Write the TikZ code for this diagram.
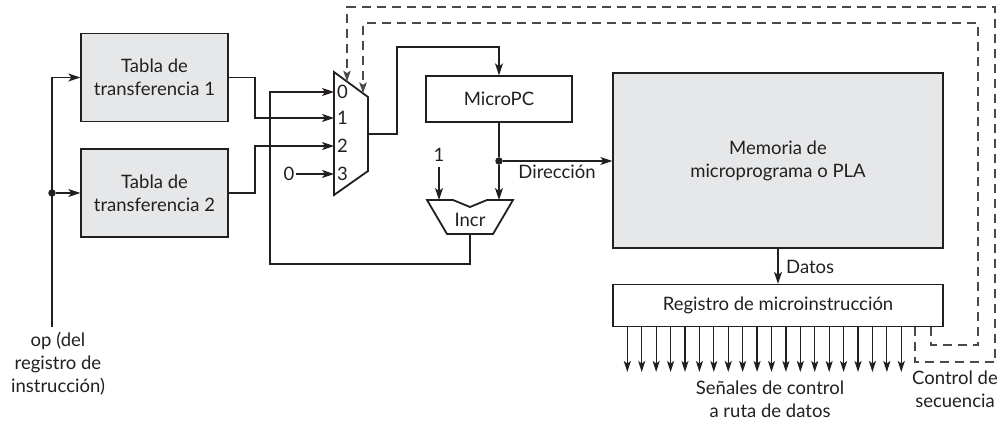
\documentclass[tikz,border=0pt]{standalone}
\usepackage{fontspec}
\setmainfont{Lato}
\usetikzlibrary{arrows.meta,calc}
\definecolor{boxgray}{HTML}{E6E7E8}
\definecolor{ink}{HTML}{231F20}
\definecolor{dashink}{HTML}{4A4A4A}
\begin{document}
\begin{tikzpicture}[x=1pt,y=-1pt,
  every node/.style={font=\fontsize{18.5}{23}\selectfont, text=ink},
  wire/.style={draw=ink, line width=1.25pt},
  arr/.style={wire, -{Stealth[length=12pt,width=8pt,inset=3pt]}},
  sig/.style={wire, -{Stealth[length=11pt,width=7pt,inset=2.5pt]}},
  dsh/.style={draw=dashink, line width=1.1pt, dash pattern=on 9pt off 6pt, -{Stealth[length=11pt,width=7.5pt,inset=2.5pt]}},
  graybox/.style={draw=ink, fill=boxgray, line width=1.3pt, inner sep=0pt, align=center},
  whitebox/.style={draw=ink, fill=white, line width=1.3pt, inner sep=0pt, align=center},
  lbl/.style={inner sep=1pt, align=center},
  dotc/.style={circle, fill=ink, inner sep=0pt, minimum size=7.5pt}
]
\useasboundingbox (0,0) rectangle (1006,421);

% boxes
\node[graybox, minimum width=147pt, minimum height=88pt] (t1) at (154.5,77.5) {Tabla de\\transferencia 1};
\node[graybox, minimum width=147pt, minimum height=88pt] (t2) at (154.5,193) {Tabla de\\transferencia 2};
\node[whitebox, minimum width=146pt, minimum height=46pt] (upc) at (499,99) {MicroPC};
\node[graybox, minimum width=330pt, minimum height=175pt] (mem) at (778,160.5) {Memoria de\\microprograma o PLA};
\node[whitebox, minimum width=330pt, minimum height=42pt] (reg) at (778,305.5) {Registro de microinstrucción};

% multiplexer
\coordinate (m1) at (334,72);
\coordinate (m2) at (368,97);
\coordinate (m3) at (368,171);
\coordinate (m4) at (334,195);
\draw[draw=ink, line width=1.8pt, line join=miter] (m1) -- (m2) -- (m3) -- (m4) -- cycle;
\coordinate (in0) at (334,92);
\coordinate (in1) at (334,118);
\coordinate (in2) at (334,146);
\coordinate (in3) at (334,174);
\coordinate (mout) at (368,134);
\node[lbl, anchor=west] (l0) at (336,92) {0};
\node[lbl, anchor=west] (l1) at (336,118) {1};
\node[lbl, anchor=west] (l2) at (336,146) {2};
\node[lbl, anchor=west] (l3) at (336,174) {3};
\coordinate (sel0) at (347,81.6);
\coordinate (sel1) at (363,93.3);

% incrementer
\draw[draw=ink, line width=1.8pt, line join=miter] (427,200) -- (453,200) -- (470,207) -- (487,200) -- (513,200) -- (493,234) -- (447,234) -- cycle;
\node[lbl] (incr) at (470,220) {Incr};
\coordinate (incA) at (439,200);
\coordinate (incB) at (499,200);
\coordinate (incout) at (470,234);

% op input
\coordinate (opbot) at (52,327);
\node[lbl, anchor=north] (oplbl) at (58,331) {op (del\\registro de\\instrucción)};
\node[dotc] (opdot) at (52,193) {};
\draw[arr] (opbot) |- (t1.west);
\draw[arr] (opdot) -- (t2.west);

% tables to mux
\draw[arr] (t1.east) -| (255,118) -- (in1);
\draw[arr] (t2.east) -| (255,146) -- (in2);
\node[lbl] (zero) at (289,174) {0};
\draw[arr] (zero.east) -- (in3);

% feedback from incr
\draw[arr] (incout) -- (470,264) -- (270,264) -- (270,92) -- (in0);

% mux to microPC
\draw[arr] (mout) -- (397,134) -- (397,47) -| (upc.north);

% microPC to incr and memory
\node[dotc] (adot) at (499,161) {};
\draw[wire] (upc.south) -- (adot);
\draw[arr] (adot) -- (incB);
\draw[arr] (adot) -- (mem.west |- adot);
\node[lbl, anchor=north] (dir) at (557,164) {Dirección};
\node[lbl] (one) at (439,155) {1};
\draw[arr] (439,167) -- (incA);

% memory to register
\draw[arr] (mem.south) -- (reg.north);
\node[lbl, anchor=west] (datos) at (785,267) {Datos};

% control signals
\foreach \i in {0,...,19} {
  \coordinate (s\i) at ({627.3+14.42*\i},326.5);
  \coordinate (e\i) at ({627.3+14.42*\i},372);
  \draw[sig] (s\i) -- (e\i);
}
\node[lbl] (senales) at (770,399) {Señales de control\\a ruta de datos};

% sequence control (dashed)
\coordinate (q0) at (915,326.5);
\coordinate (q1) at (931,326.5);
\draw[dsh] (q0) -- (915,362) -- (995,362) -- (995,7) -- (347,7) -- (sel0);
\draw[dsh] (q1) -- (931,345) -- (978,345) -- (978,23) -- (363,23) -- (sel1);
\node[lbl] (secctl) at (955,389) {Control de\\secuencia};
\end{tikzpicture}
\end{document}
